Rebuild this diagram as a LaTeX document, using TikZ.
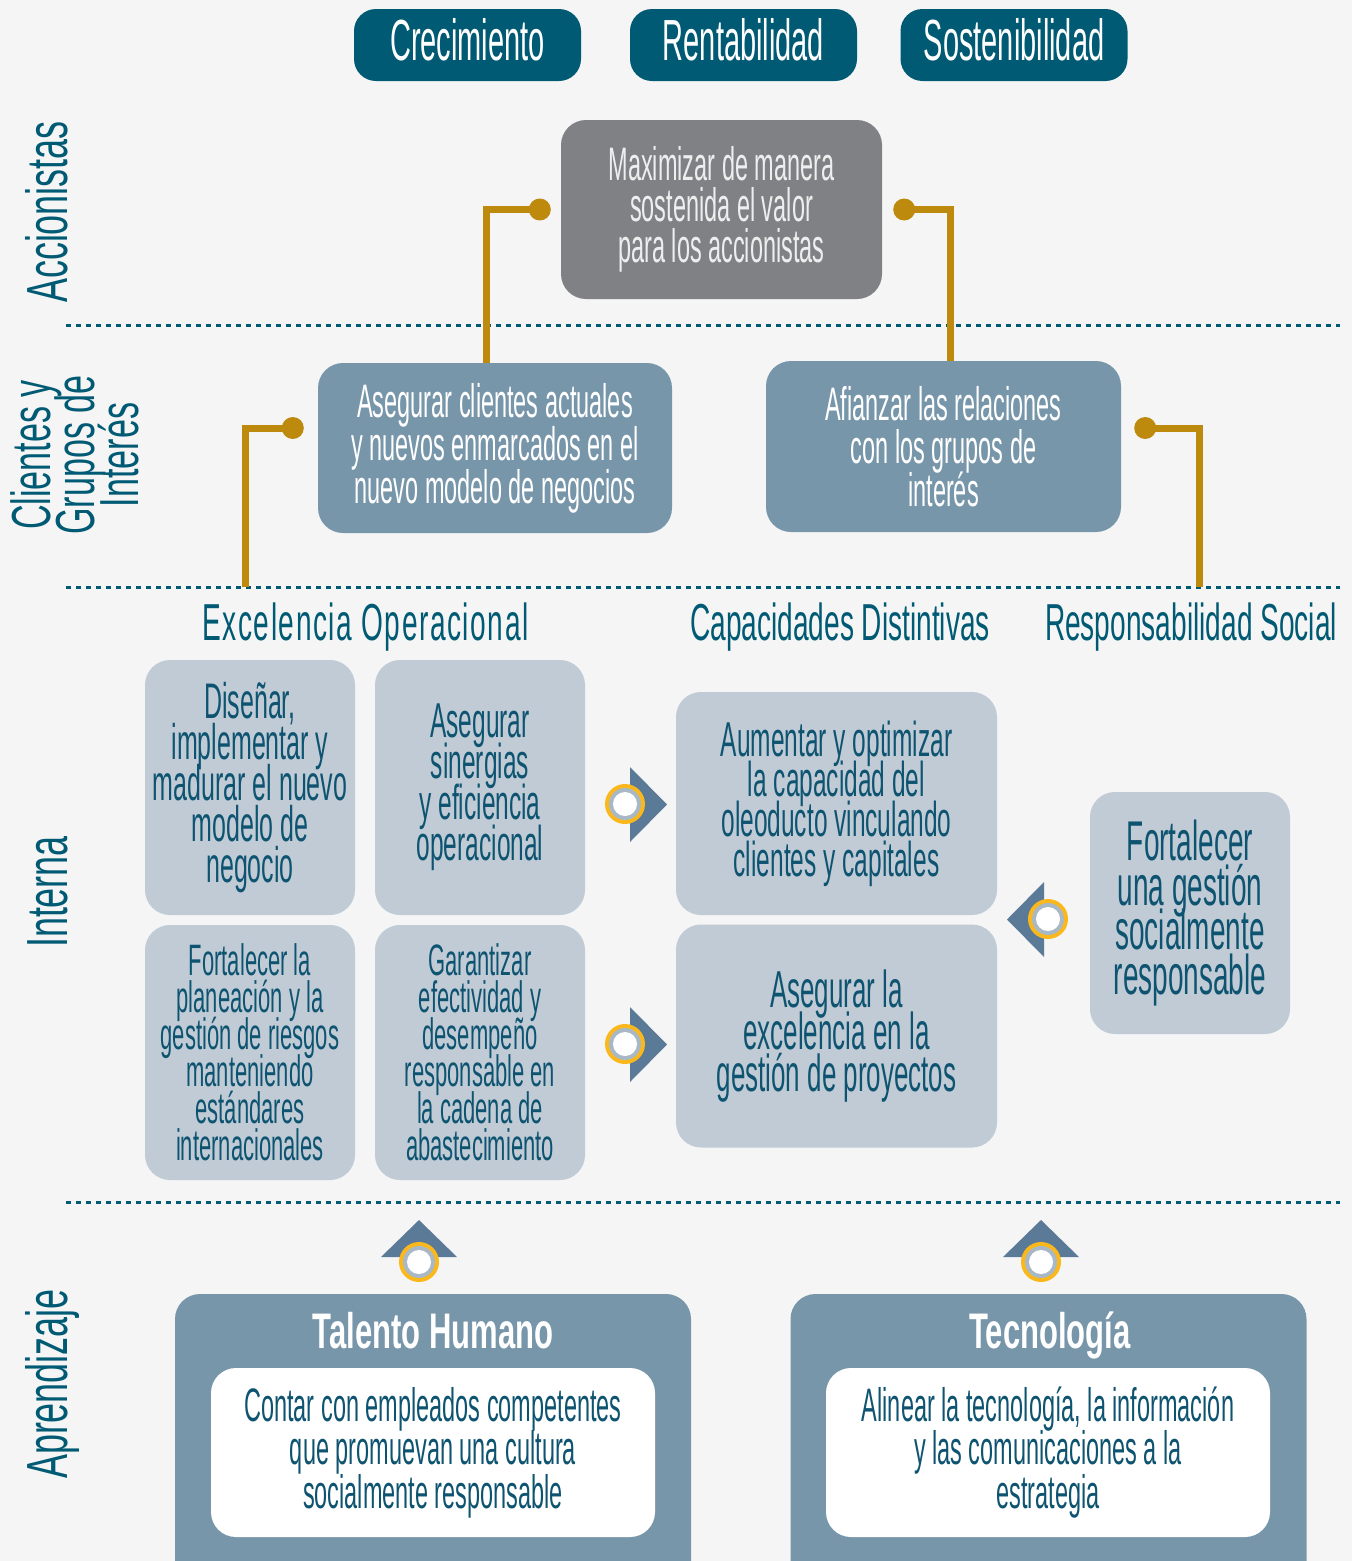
\documentclass[tikz,border=0pt]{standalone}
\usepackage{fontspec}
\setmainfont{Liberation Sans}
% condensed faces used throughout
\newfontfamily\bodyf{Liberation Sans}[FakeStretch=0.5]
\newfontfamily\sidef{Liberation Sans}[FakeStretch=0.62]
\newfontfamily\headf{Liberation Sans}[FakeStretch=0.54]
\newfontfamily\headsp{Liberation Sans}[FakeStretch=0.54,LetterSpace=3]
\newfontfamily\boldf{Liberation Sans Bold}[FakeStretch=0.62]
\newcommand\fsz[2]{\fontsize{#1}{#2}\selectfont\lineskiplimit=-100pt\lineskip=0pt\relax}
\usetikzlibrary{calc}

\definecolor{bgc}{HTML}{F5F5F5}
\definecolor{teal}{HTML}{005A73}
\definecolor{grayb}{HTML}{808185}
\definecolor{steel}{HTML}{7896AA}
\definecolor{lightb}{HTML}{C0CBD6}
\definecolor{gold}{HTML}{BE8A0E}
\definecolor{tri}{HTML}{5B7A98}
\definecolor{ringgold}{HTML}{FBB81C}
\definecolor{ringgray}{HTML}{A9B8C5}
\definecolor{paletext}{HTML}{EEEEEE}
\definecolor{deeptext}{HTML}{0E5471}

\newcommand\ringat[1]{%
  \fill[ringgold] #1 circle (20pt);
  \fill[ringgray] #1 circle (16pt);
  \fill[white] #1 circle (12pt);}

\begin{document}
\begin{tikzpicture}[x=1pt,y=-1pt,
  pill/.style={fill=teal, rounded corners=22pt, minimum width=227pt,
    minimum height=72pt, inner sep=0pt, text=white,
    font=\bodyf\fsz{58}{58}, text height=42pt, text depth=12pt},
  box/.style={rounded corners=25pt, inner sep=0pt, align=center},
  graybox/.style={box, fill=grayb, text=paletext},
  steelbox/.style={box, fill=steel, text=white},
  lightbox/.style={box, fill=lightb, text=deeptext},
  outerbox/.style={box, fill=steel, minimum width=516pt, minimum height=306pt},
  whitebox/.style={box, fill=white, text=deeptext, minimum width=444pt,
    minimum height=169pt, font=\bodyf\fsz{47}{43.5}},
  titletext/.style={anchor=base, text=white, font=\boldf\bfseries\fsz{50}{50}, inner sep=0pt},
  sidelabel/.style={rotate=90, text=teal, inner sep=0pt, align=center},
  heading/.style={anchor=base, text=teal, inner sep=0pt, font=\headf\fsz{52}{52}},
  dotline/.style={teal, line width=3pt, dash pattern=on 5pt off 5pt},
  goldline/.style={gold, line width=7pt},
]
\useasboundingbox (0,0) rectangle (1352,1561);
\clip (0,0) rectangle (1352,1561);
\fill[bgc] (0,0) rectangle (1352,1561);

% goals
\node[pill] (crec) at (467.5,45) {Crecimiento};
\node[pill] (rent) at (743.5,45) {Rentabilidad};
\node[pill] (sost) at (1014,45) {Sostenibilidad};

% band separators
\draw[dotline] (66,325) -- (1340,325);
\draw[dotline] (66,587) -- (1340,587);
\draw[dotline] (66,1202) -- (1340,1202);

% band labels
\node[sidelabel, anchor=base, font=\sidef\fsz{58}{58}] (lacc) at (67,212) {Accionistas};
\node[sidelabel, font=\sidef\fsz{55}{44}] (lcli) at (75,455) {Clientes y\\Grupos de\\Interés};
\node[sidelabel, anchor=base, font=\sidef\fsz{58}{58}] (lint) at (67,892) {Interna};
\node[sidelabel, anchor=base, font=\sidef\fsz{58}{58}] (lapr) at (67,1384) {Aprendizaje};

% shareholders
\node[graybox, minimum width=321pt, minimum height=179pt, font=\bodyf\fsz{47}{41}]
  (valor) at (721.5,209.5) {Maximizar de manera\\sostenida el valor\\para los accionistas};

% customers and stakeholders
\node[steelbox, minimum width=354pt, minimum height=170pt, font=\bodyf\fsz{47}{43}]
  (cli) at (495,448) {Asegurar clientes actuales\\y nuevos enmarcados en el\\nuevo modelo de negocios};
\node[steelbox, minimum width=355pt, minimum height=171pt, font=\bodyf\fsz{47}{43}]
  (gru) at (943.5,446.5) {Afianzar las relaciones\\con los grupos de\\interés};

% connectors
\coordinate (d1) at ([xshift=-21pt]valor.west);
\coordinate (d2) at ([xshift=22pt]valor.east);
\coordinate (d3) at ([xshift=-25pt,yshift=20pt]cli.west);
\coordinate (d4) at ([xshift=24pt,yshift=18.5pt]gru.east);
\coordinate (e3) at (245,587);
\coordinate (e4) at (1199,587);
\draw[goldline] (d1) -| ([xshift=-9pt]cli.north);
\draw[goldline] (d2) -| ([xshift=6.5pt]gru.north);
\draw[goldline] (d3) -| (e3);
\draw[goldline] (d4) -| (e4);
\foreach \d in {d1,d2,d3,d4} \fill[gold] (\d) circle (11pt);

% internal perspective
\node[heading, font=\headsp\fsz{52}{52}] (hexc) at (365.5,640) {Excelencia Operacional};
\node[heading] (hcap) at (840,640) {Capacidades Distintivas};
\node[heading] (hres) at (1191,640) {Responsabilidad Social};

\node[lightbox, minimum width=210pt, minimum height=255pt, font=\bodyf\fsz{50}{41}]
  (dis) at (250,787.5) {Diseñar,\\implementar y\\madurar el nuevo\\modelo de\\negocio};
\node[lightbox, minimum width=210pt, minimum height=255pt, font=\bodyf\fsz{49}{41}]
  (sin) at (480,787.5) {Asegurar\\sinergias\\y eficiencia\\operacional};
\node[lightbox, minimum width=210pt, minimum height=255pt, font=\bodyf\fsz{44}{37}]
  (pla) at (250,1052.5) {Fortalecer la\\planeación y la\\gestión de riesgos\\manteniendo\\estándares\\internacionales};
\node[lightbox, minimum width=210pt, minimum height=255pt, font=\bodyf\fsz{44}{37}]
  (gar) at (480,1052.5) {Garantizar\\efectividad y\\desempeño\\responsable en\\la cadena de\\abastecimiento};
\node[lightbox, minimum width=321pt, minimum height=223pt, font=\bodyf\fsz{49}{40}]
  (aum) at (836.5,803.5) {Aumentar y optimizar\\la capacidad del\\oleoducto vinculando\\clientes y capitales};
\node[lightbox, minimum width=321pt, minimum height=223pt, font=\bodyf\fsz{52}{42}]
  (pro) at (836.5,1036) {Asegurar la\\excelencia en la\\gestión de proyectos};
\node[lightbox, minimum width=200pt, minimum height=242pt, font=\bodyf\fsz{56}{44.5}]
  (soc) at (1190,913) {Fortalecer\\una gestión\\socialmente\\responsable};

% direction markers
\fill[tri] (630,767) -- (630,842) -- (667,804.5) -- cycle;
\ringat{(625,804)}
\fill[tri] (630,1007) -- (630,1082) -- (667,1044.5) -- cycle;
\ringat{(625,1044)}
\fill[tri] (1044,882) -- (1044,957) -- (1007,919.5) -- cycle;
\ringat{(1048,919)}
\fill[tri] (381,1257) -- (457,1257) -- (419,1220) -- cycle;
\ringat{(419,1262)}
\fill[tri] (1003,1257) -- (1079,1257) -- (1041,1220) -- cycle;
\ringat{(1041,1262)}

% learning perspective
\node[outerbox] (tal) at (433,1447) {};
\node[titletext] (talt) at (433,1348) {Talento Humano};
\node[whitebox] (talb) at (433,1452.5) {Contar con empleados competentes\\que promuevan una cultura\\socialmente responsable};

\node[outerbox] (tec) at (1048.5,1447) {};
\node[titletext] (tect) at (1050,1348) {Tecnología};
\node[whitebox] (tecb) at (1048,1452.5) {Alinear la tecnología, la información\\y las comunicaciones a la\\estrategia};
\end{tikzpicture}
\end{document}
